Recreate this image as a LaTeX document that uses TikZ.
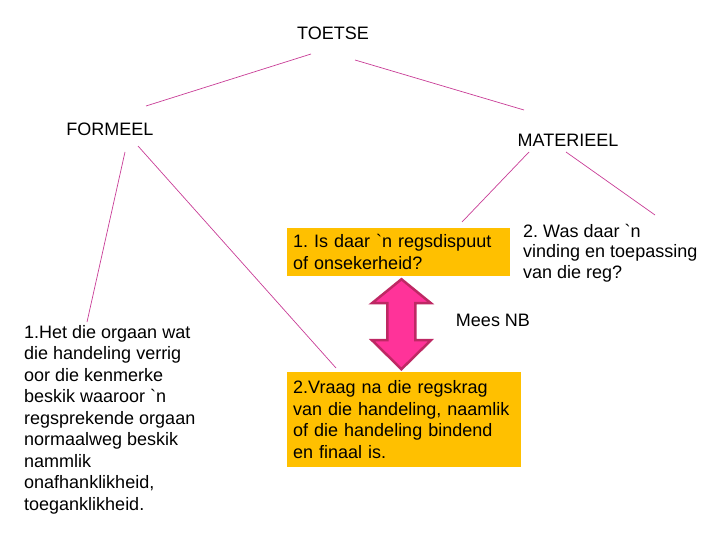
\documentclass[tikz,border=0pt]{standalone}
\usepackage{fontspec}
\setmainfont{Liberation Sans}[Ligatures=TeXOff]
\usepackage{tikz}
\usetikzlibrary{calc}
\definecolor{oranje}{RGB}{255,192,0}
\definecolor{taklyn}{RGB}{200,60,150}
\definecolor{pienk}{RGB}{255,51,153}
\definecolor{donkerpienk}{RGB}{190,40,100}
\tikzstyle{kop} = [inner sep=0pt, font=\fontsize{18}{21.5}\selectfont]
\tikzstyle{teks} = [inner sep=0pt, align=left, anchor=north west, font=\fontsize{18}{21.5}\selectfont]
\tikzstyle{blok} = [rectangle, fill=oranje, align=left, anchor=north west, inner xsep=6pt, inner ysep=4pt, font=\fontsize{18}{21.5}\selectfont]
\tikzstyle{tak} = [draw=taklyn, line width=0.7pt]
\tikzstyle{pyl} = [fill=pienk, draw=donkerpienk, line width=2.5pt, line join=miter]

\begin{document}
\frenchspacing
\begin{tikzpicture}[x=1pt, y=-1pt]
    \useasboundingbox (0,0) rectangle (720,540);
    \node (toetse) [kop] at (333,33) {TOETSE};
    \node (formeel) [kop] at (110,129) {FORMEEL};
    \node (materieel) [kop] at (568,140) {MATERIEEL};
    \node (vraag1) [blok, text width=211pt, minimum height=48pt] at (287,228) {1. Is daar `n regsdispuut\\of onsekerheid?};
    \node (was2) [teks, font=\fontsize{18}{20.5}\selectfont] at (523,224) {2. Was daar `n\\vinding en toepassing\\van die reg?};
    \node (mees) [kop] at (493,320) {Mees NB};
    \node (orgaan) [teks] at (24,325) {1.Het die orgaan wat\\die handeling verrig\\oor die kenmerke\\beskik waaroor `n\\regsprekende orgaan\\normaalweg beskik\\nammlik\\onafhanklikheid,\\toeganklikheid.};
    \node (vraag2) [blok, text width=222pt, minimum height=95pt] at (287,372) {2.Vraag na die regskrag\\van die handeling, naamlik\\of die handeling bindend\\en finaal is.};

    \draw [tak] ([shift={(-22,21)}]toetse.center) -- ([shift={(36,-23)}]formeel.center);
    \draw [tak] ([shift={(22,27)}]toetse.center) -- ([shift={(-44,-30)}]materieel.center);
    \draw [tak] ([shift={(15,23)}]formeel.center) -- ([shift={(63,-3)}]orgaan.north west);
    \draw [tak] ([shift={(28,17)}]formeel.center) -- ([shift={(49,-4)}]vraag2.north west);
    \draw [tak] ([shift={(-39,12)}]materieel.center) -- ([shift={(175,-6)}]vraag1.north west);
    \draw [tak] ([shift={(-2,12)}]materieel.center) -- ([shift={(132,-9)}]was2.north west);

    \coordinate (pyl) at ($(vraag1.south)!0.5!(vraag2.north)$);
    \draw [pyl] (pyl) ++(0,-45) -- ++(29.5,24) -- ++(-15.5,0) -- ++(0,37) -- ++(15.5,0) -- ++(-29.5,29) -- ++(-29.5,-29) -- ++(15.5,0) -- ++(0,-37) -- ++(-15.5,0) -- cycle;
\end{tikzpicture}
\end{document}
